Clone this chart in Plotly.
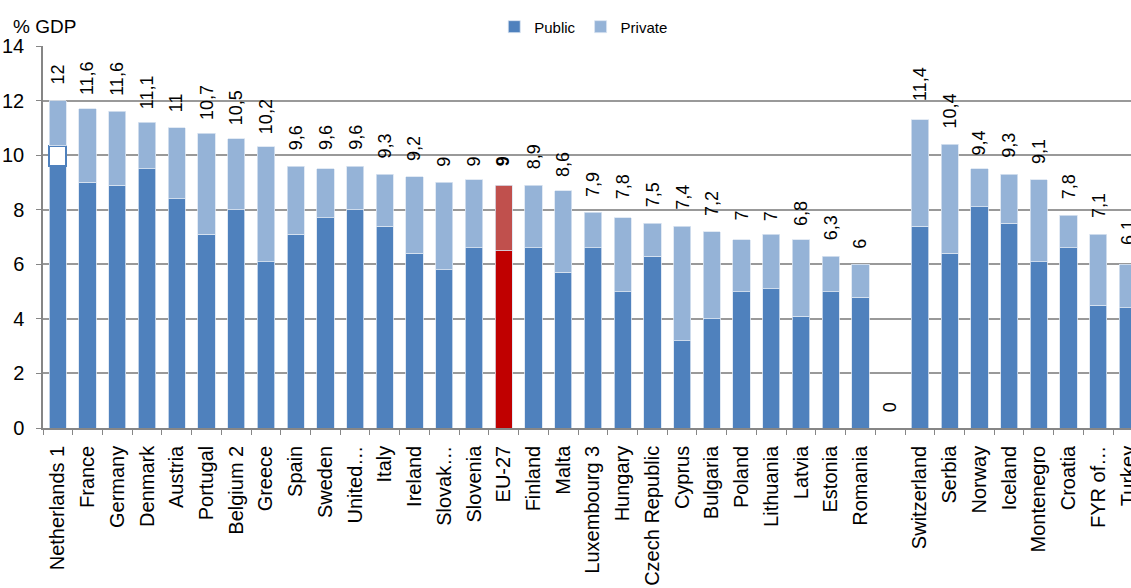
import plotly.graph_objects as go

countries = ["Netherlands 1", "France", "Germany", "Denmark", "Austria", "Portugal",
             "Belgium 2", "Greece", "Spain", "Sweden", "United…", "Italy", "Ireland",
             "Slovak…", "Slovenia", "EU-27", "Finland", "Malta", "Luxembourg 3",
             "Hungary", "Czech Republic", "Cyprus", "Bulgaria", "Poland", "Lithuania",
             "Latvia", "Estonia", "Romania", " ", "Switzerland", "Serbia", "Norway",
             "Iceland", "Montenegro", "Croatia", "FYR of…", "Turkey"]

public = [9.6, 9.0, 8.9, 9.5, 8.4, 7.1, 8.0, 6.1, 7.1, 7.7, 8.0, 7.4, 6.4, 5.8, 6.6,
          6.5, 6.6, 5.7, 6.6, 5.0, 6.3, 3.2, 4.0, 5.0, 5.1, 4.1, 5.0, 4.8, None,
          7.4, 6.4, 8.1, 7.5, 6.1, 6.6, 4.5, 4.4]

note = [0.75] + [None] * 36   # white marked segment on the Netherlands bar

private = [1.65, 2.7, 2.7, 1.7, 2.6, 3.7, 2.6, 4.2, 2.5, 1.8, 1.6, 1.9, 2.8, 3.2, 2.5,
           2.4, 2.3, 3.0, 1.3, 2.7, 1.2, 4.2, 3.2, 1.9, 2.0, 2.8, 1.3, 1.2, None,
           3.9, 4.0, 1.4, 1.8, 3.0, 1.2, 2.6, 1.6]

totals_label = [12, 11.6, 11.6, 11.1, 11, 10.7, 10.5, 10.2, 9.6, 9.6, 9.6, 9.3, 9.2,
                9, 9, 9, 8.9, 8.6, 7.9, 7.8, 7.5, 7.4, 7.2, 7, 7, 6.8, 6.3, 6, 0,
                11.4, 10.4, 9.4, 9.3, 9.1, 7.8, 7.1, 6.1]

y_ticks = [0, 2, 4, 6, 8, 10, 12, 14]

PUB = "#4F81BD"
PRI = "#95B3D7"
EU_PUB = "#C00000"
EU_PRI = "#C0504D"
FONT = "Liberation Sans, Arial, sans-serif"

pub_colors = [EU_PUB if c == "EU-27" else PUB for c in countries]
pri_colors = [EU_PRI if c == "EU-27" else PRI for c in countries]

fig = go.Figure()
fig.add_trace(go.Bar(x=countries, y=public, name="Public",
                     marker=dict(color=pub_colors, line=dict(color="#dbe5f1", width=0.8))))
fig.add_trace(go.Bar(x=countries, y=note, showlegend=False,
                     marker=dict(color="white", line=dict(color=PUB, width=2))))
fig.add_trace(go.Bar(x=countries, y=private, name="Private",
                     marker=dict(color=pri_colors, line=dict(color="#dbe5f1", width=0.8))))

for c, v in zip(countries, totals_label):
    txt = f"{v:g}".replace(".", ",")
    if c == "EU-27":
        txt = f"<b>{txt}</b>"
    fig.add_annotation(x=c, y=v, xref="x", yref="y", text=txt, textangle=-90,
                       showarrow=False, yanchor="bottom", xanchor="center", yshift=14,
                       font=dict(family=FONT, size=18, color="black"))

fig.add_annotation(x=-0.029, y=1.0505, xref="paper", yref="paper", text="% GDP",
                   showarrow=False, xanchor="left", yanchor="middle",
                   font=dict(family=FONT, size=19, color="black"))

fig.update_layout(
    width=1131, height=588,
    margin=dict(l=43, r=0, t=46, b=160, autoexpand=False),
    barmode="stack", bargap=0.42,
    paper_bgcolor="white", plot_bgcolor="white",
    font=dict(family=FONT, color="black"),
    legend=dict(orientation="h", x=0.497, y=1.05, xanchor="center", yanchor="middle",
                traceorder="normal",
                font=dict(family=FONT, size=15, color="black"), itemwidth=30,
                bgcolor="rgba(0,0,0,0)"),
    showlegend=True,
)
fig.update_xaxes(type="category", range=[-0.5, 36.1], tickangle=-90,
                 tickson="boundaries", ticks="outside", ticklen=5, tickcolor="#868686",
                 showline=True, linecolor="#868686", linewidth=1.5, showgrid=False,
                 tickfont=dict(family=FONT, size=20, color="black"),
                 ticklabelstandoff=8, automargin=False)
fig.update_yaxes(range=[0, 14], tickvals=y_ticks, ticks="outside", ticklen=5,
                 tickcolor="#868686", showline=True, linecolor="#868686", linewidth=1.5,
                 showgrid=True, gridcolor="#999999", gridwidth=1.5, zeroline=False,
                 tickfont=dict(family=FONT, size=20, color="black"),
                 ticklabelstandoff=8, automargin=False)

fig.write_html("out.html")
